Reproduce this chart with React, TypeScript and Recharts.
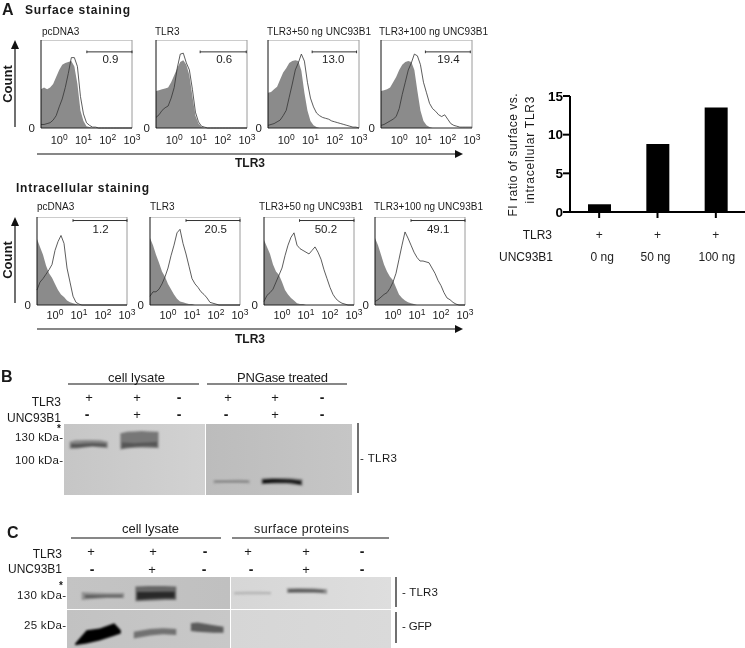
import React from 'react';
import {
  ComposedChart, Area, Line, XAxis, YAxis, ReferenceLine, ReferenceDot, BarChart, Bar,
} from 'recharts';

// ---------- flow cytometry data: log10 fluorescence bins, % of max count ----------
const bins = Array.from({ length: 31 }, (_, i) => -0.75 + i * 0.125);
const decades = [0, 1, 2, 3];

const isoSurfA = [44,46,44,46,50,58,66,72,74,75,76,70,50,20,8,2,1];
const isoSurfB = [42,43,44,45,46,52,60,68,75,77,72,60,36,14,5,1];
const isoSurfC = [40,41,44,47,55,63,68,74,76,77,76,65,40,20,8,3,1];
const isoSurfD = [42,43,44,46,52,58,66,72,75,76,75,66,42,20,8,3,1];
const surfA = [4,4,5,6,9,14,24,33,46,62,80,80,70,36,16,6,3,1,1];
const surfB = [12,15,20,23,25,34,46,68,84,85,74,66,44,18,7,2,1];
const surfC = [3,4,5,7,9,14,20,35,50,66,74,84,76,52,34,24,17,14,12,11,10,8,7,6,5,4,3,2,1,1,0];
const surfD = [3,4,6,8,10,13,22,38,52,66,74,84,82,72,52,40,28,22,19,15,13,15,10,5,3,2,1,1,1,1,1];

const isoIntraA = [75,66,57,45,36,31,24,17,12,9,5,3,2,1];
const isoIntraB = [76,68,57,48,38,32,24,18,12,7,4,3,2,1,1];
const isoIntraC = [74,66,58,46,38,34,26,17,12,8,5,2,1,1];
const isoIntraD = [76,68,57,46,38,32,28,20,12,8,5,3,2,1];
const intraA = [17,26,30,35,40,46,62,72,79,70,42,26,10,3,1];
const intraB = [10,15,15,18,24,32,42,56,68,82,86,70,58,44,30,24,20,15,12,8,3,2,1];
const intraC = [4,11,14,18,26,34,42,56,68,77,82,68,64,62,60,58,62,66,60,52,40,30,20,12,7,4,2,1];
const intraD = [4,6,9,12,14,19,26,36,52,68,83,76,68,60,54,50,50,49,48,42,36,28,22,14,8,6,3,1];

const surfaceTitles = ['pcDNA3', 'TLR3', 'TLR3+50 ng UNC93B1', 'TLR3+100 ng UNC93B1'];
const surfaceGateStart = [1.14, 1.07, 1.07, 1.08];
const surfaceGateEnd = [3, 2.97, 2.9, 2.93];
const surfacePercent = ['0.9', '0.6', '13.0', '19.4'];
const surfacePercentAt = [2.11, 2.06, 1.94, 2.03];
const intraGateStart = [0.75, 0.75, 0.73, 0.75];
const intraPercent = ['1.2', '20.5', '50.2', '49.1'];
const intraPercentAt = [1.9, 1.99, 1.83, 1.88];

// ---------- bar chart ----------
const doseLabels = ['0 ng', '50 ng', '100 ng'];
const tlr3Signs = ['+', '+', '+'];
const fiRatio = [1.0, 8.8, 13.5];
const ratioTicks = [0, 5, 10, 15];

// ---------- blots: x along the lane (% of gel width), top/bottom of band (% of gel height), signal 0..1 ----------
const gelBLeft = [
  { x: [4,8,15,20,26,31], top: [25,23,22.5,22.5,23,25], bottom: [35,35,33,32,33,34], signal: 0.35 },
  { x: [5,10,20,30], top: [28,28,27,28], bottom: [33,33,31,32], signal: 0.6 },
  { x: [40,45,55,67], top: [13,11,10,11], bottom: [36,34,33,34], signal: 0.42 },
  { x: [41,50,60,66], top: [26,27,26,25], bottom: [34,32,31,32], signal: 0.58 },
];
const gelBRight = [
  { x: [5,12,22,30], top: [79,79,78,79], bottom: [84,83,83,84], signal: 0.2 },
  { x: [6,14,22,29], top: [80,80,80,80], bottom: [82,82,82,82], signal: 0.4 },
  { x: [38,45,55,66], top: [77,76,76,78], bottom: [85,84,84,87], signal: 0.5 },
  { x: [39,48,58,65], top: [79,78,79,81], bottom: [83,82,82,85], signal: 0.95 },
];
const gelCTopLeft = [
  { x: [9,13,24,35], top: [47,48,50,50], bottom: [72,70,66,66], signal: 0.3 },
  { x: [11,14,24,34], top: [56,56,57,57], bottom: [66,66,63,63], signal: 0.55 },
  { x: [42,50,60,67], top: [30,28,28,30], bottom: [76,74,72,72], signal: 0.5 },
  { x: [43,50,60,66], top: [47,47,46,46], bottom: [70,68,66,66], signal: 0.8 },
];
const gelCTopRight = [
  { x: [2,10,18,25], top: [47,46,46,47], bottom: [55,54,54,54], signal: 0.12 },
  { x: [35,42,52,60], top: [35,34,35,38], bottom: [50,50,50,52], signal: 0.3 },
  { x: [36,42,52,58], top: [40,39,40,42], bottom: [47,46,46,48], signal: 0.6 },
];
const gelCBottomLeft = [
  { x: [5,12,20,29,33], top: [88,53,49,35,53], bottom: [93,88,80,68,62], signal: 1 },
  { x: [41,51,59,67], top: [57,50,48,50], bottom: [75,67,64,66], signal: 0.45 },
  { x: [76,80,90,96], top: [35,33,40,44], bottom: [55,57,60,60], signal: 0.55 },
];
const gelCBottomRight: { x: number[]; top: number[]; bottom: number[]; signal: number }[] = [];

const SANS = '"Liberation Sans", Arial, sans-serif';

// ---------- histogram panel ----------
const decadeTick = (dy: number) => (props: any) => {
  const { x, y, payload } = props;
  return (
    <text x={x} y={y + dy} textAnchor="middle" fontFamily={SANS} fontSize={11} fill="#222">
      10<tspan dy={-4} fontSize={8.5}>{payload.value}</tspan>
    </text>
  );
};

function Histogram(p: {
  left: number; top: number; width: number; height: number; iso: number[]; sample: number[]; tickDy: number;
  gateFrom: number; gateTo: number; gateY: number; pct: string; pctX: number; pctY: number;
}) {
  const rows = bins.map((x, i) => ({ x, iso: p.iso[i] ?? 0, sample: p.sample[i] ?? 0 }));
  const AXIS_W = 14; const AXIS_H = 24; const RIGHT = 16;
  return (
    <div style={{ position: 'absolute', left: p.left - AXIS_W, top: p.top }}>
      <ComposedChart width={p.width + AXIS_W + RIGHT} height={p.height + AXIS_H} data={rows}
        margin={{ top: 0, right: RIGHT, bottom: 0, left: 0 }}>
        <XAxis dataKey="x" type="number" domain={[-0.75, 3]} ticks={decades} height={AXIS_H}
          tick={decadeTick(p.tickDy)} tickLine={false} axisLine={{ stroke: '#222', strokeWidth: 1 }} interval={0} />
        <YAxis type="number" domain={[0, 100]} ticks={[0]} width={AXIS_W} tickLine={false}
          tick={{ fontSize: 11.5, fontFamily: SANS, fill: '#222' }} tickMargin={0}
          axisLine={{ stroke: '#111', strokeWidth: 1 }} />
        <ReferenceLine y={100} stroke="#9a9a9a" strokeWidth={1} />
        <ReferenceLine x={3} stroke="#9a9a9a" strokeWidth={1} />
        <Area dataKey="iso" type="linear" fill="#8b8b8b" fillOpacity={1} stroke="none" dot={false}
          activeDot={false} isAnimationActive={false} />
        <Line dataKey="sample" type="linear" stroke="#333" strokeWidth={0.8} dot={false}
          activeDot={false} isAnimationActive={false} />
        <ReferenceLine segment={[{ x: p.gateFrom, y: p.gateY }, { x: p.gateTo, y: p.gateY }]} stroke="#333" strokeWidth={1} />
        <ReferenceLine segment={[{ x: p.gateFrom, y: p.gateY - 1.5 }, { x: p.gateFrom, y: p.gateY + 1.5 }]} stroke="#333" strokeWidth={1} />
        <ReferenceLine segment={[{ x: p.gateTo, y: p.gateY - 1.5 }, { x: p.gateTo, y: p.gateY + 1.5 }]} stroke="#333" strokeWidth={1} />
        <ReferenceDot x={p.pctX} y={p.pctY} r={0} stroke="none"
          label={{ value: p.pct, position: 'center', fontSize: 11.5, fontFamily: SANS, fill: '#222' }} />
      </ComposedChart>
    </div>
  );
}

// ---------- blot panel ----------
function Gel(p: { left: number; top: number; width: number; height: number; bands: typeof gelBLeft; bg: string }) {
  const xs = Array.from(new Set(p.bands.flatMap((b) => b.x))).sort((a, b) => a - b);
  const rows = xs.length
    ? xs.map((x) => {
        const r: any = { x };
        p.bands.forEach((b, i) => {
          const j = b.x.indexOf(x);
          if (j >= 0) r['b' + i] = [b.top[j], b.bottom[j]];
          else if (x > b.x[0] && x < b.x[b.x.length - 1]) {
            const k = b.x.findIndex((v) => v > x);
            const t = (x - b.x[k - 1]) / (b.x[k] - b.x[k - 1]);
            r['b' + i] = [b.top[k - 1] + t * (b.top[k] - b.top[k - 1]), b.bottom[k - 1] + t * (b.bottom[k] - b.bottom[k - 1])];
          }
        });
        return r;
      })
    : [{ x: 0 }, { x: 100 }];
  return (
    <div style={{ position: 'absolute', left: p.left, top: p.top, width: p.width, height: p.height, background: p.bg, overflow: 'hidden' }}>
      <div style={{ filter: 'blur(1.2px)' }}>
        <ComposedChart width={p.width} height={p.height} data={rows} margin={{ top: 0, right: 0, bottom: 0, left: 0 }}>
          <XAxis dataKey="x" type="number" domain={[0, 100]} hide />
          <YAxis type="number" domain={[0, 100]} reversed hide />
          {p.bands.map((b, i) => {
            const g = Math.round(205 * (1 - b.signal));
            return (
              <Area key={i} dataKey={'b' + i} type="linear" stroke="none" fillOpacity={1}
                fill={`rgb(${g},${g},${g})`} dot={false} activeDot={false} isAnimationActive={false} />
            );
          })}
        </ComposedChart>
      </div>
    </div>
  );
}

// ---------- bar chart ticks ----------
const DoseTick = (props: any) => {
  const { x, y, index } = props;
  return (
    <g fontFamily={SANS} fontSize={12} fill="#222" textAnchor="middle">
      <text x={x} y={y + 19}>{tlr3Signs[index]}</text>
      <text x={x + (index === 0 ? 3 : index === 1 ? -2 : 1)} y={y + 41}>{doseLabels[index]}</text>
    </g>
  );
};

// ---------- page annotations ----------
type T = { t: string; x: number; y: number; s?: number; b?: boolean; a?: 'start' | 'middle' | 'end'; w?: number; r?: boolean };
const labels: T[] = [
  { t: 'A', x: 2, y: 15, s: 16, b: true },
  { t: 'Surface staining', x: 25, y: 14, s: 12, b: true, w: 105 },
  { t: 'Intracellular staining', x: 16, y: 192, s: 12, b: true, w: 133 },
  { t: 'pcDNA3', x: 42, y: 35, s: 10 }, { t: 'TLR3', x: 155, y: 35, s: 10 },
  { t: 'TLR3+50 ng UNC93B1', x: 267, y: 35, s: 10, w: 104 },
  { t: 'TLR3+100 ng UNC93B1', x: 379, y: 35, s: 10, w: 109 },
  { t: 'pcDNA3', x: 37, y: 210, s: 10 }, { t: 'TLR3', x: 150, y: 210, s: 10 },
  { t: 'TLR3+50 ng UNC93B1', x: 259, y: 210, s: 10, w: 104 },
  { t: 'TLR3+100 ng UNC93B1', x: 374, y: 210, s: 10, w: 109 },
  { t: 'TLR3', x: 235, y: 167, s: 12, b: true }, { t: 'TLR3', x: 235, y: 343, s: 12, b: true },
  { t: 'Count', x: 12, y: 84, s: 13, b: true, a: 'middle', r: true },
  { t: 'Count', x: 12, y: 260, s: 13, b: true, a: 'middle', r: true },
  { t: 'FI ratio of surface vs.', x: 517, y: 155, s: 12, a: 'middle', r: true, w: 123 },
  { t: 'intracellular TLR3', x: 534, y: 150, s: 12, a: 'middle', r: true, w: 107 },
  { t: 'TLR3', x: 552, y: 239, s: 12, a: 'end' }, { t: 'UNC93B1', x: 553, y: 261, s: 12, a: 'end' },
  // panel B
  { t: 'B', x: 1, y: 382, s: 16, b: true },
  { t: 'cell lysate', x: 108, y: 382, s: 13, w: 57 },
  { t: 'PNGase treated', x: 237, y: 382, s: 13, w: 91 },
  { t: 'TLR3', x: 61, y: 406, s: 12, a: 'end' }, { t: 'UNC93B1', x: 61, y: 422, s: 12, a: 'end' },
  { t: '+', x: 89, y: 402, a: 'middle', s: 13 }, { t: '+', x: 137, y: 402, a: 'middle', s: 13 }, { t: '-', x: 179, y: 402, a: 'middle', s: 14, b: true },
  { t: '+', x: 228, y: 402, a: 'middle', s: 13 }, { t: '+', x: 275, y: 402, a: 'middle', s: 13 }, { t: '-', x: 322, y: 402, a: 'middle', s: 14, b: true },
  { t: '-', x: 87, y: 419, a: 'middle', s: 14, b: true }, { t: '+', x: 137, y: 419, a: 'middle', s: 13 }, { t: '-', x: 179, y: 419, a: 'middle', s: 14, b: true },
  { t: '-', x: 226, y: 419, a: 'middle', s: 14, b: true }, { t: '+', x: 275, y: 419, a: 'middle', s: 13 }, { t: '-', x: 322, y: 419, a: 'middle', s: 14, b: true },
  { t: '*', x: 59, y: 432, a: 'middle', s: 10, b: true },
  { t: '130 kDa-', x: 15, y: 441, s: 11.5, w: 48 }, { t: '100 kDa-', x: 15, y: 464, s: 11.5, w: 48 },
  { t: '- TLR3', x: 360, y: 462, s: 11.5, w: 37 },
  // panel C
  { t: 'C', x: 7, y: 538, s: 16, b: true },
  { t: 'cell lysate', x: 122, y: 533, s: 13, w: 57 },
  { t: 'surface proteins', x: 254, y: 533, s: 12.5, w: 95 },
  { t: 'TLR3', x: 62, y: 558, s: 12, a: 'end' }, { t: 'UNC93B1', x: 62, y: 573, s: 12, a: 'end' },
  { t: '+', x: 91, y: 556, a: 'middle', s: 13 }, { t: '+', x: 153, y: 556, a: 'middle', s: 13 }, { t: '-', x: 205, y: 556, a: 'middle', s: 14, b: true },
  { t: '+', x: 248, y: 556, a: 'middle', s: 13 }, { t: '+', x: 306, y: 556, a: 'middle', s: 13 }, { t: '-', x: 362, y: 556, a: 'middle', s: 14, b: true },
  { t: '-', x: 92, y: 574, a: 'middle', s: 14, b: true }, { t: '+', x: 152, y: 574, a: 'middle', s: 13 }, { t: '-', x: 204, y: 574, a: 'middle', s: 14, b: true },
  { t: '-', x: 251, y: 574, a: 'middle', s: 14, b: true }, { t: '+', x: 306, y: 574, a: 'middle', s: 13 }, { t: '-', x: 362, y: 574, a: 'middle', s: 14, b: true },
  { t: '*', x: 61, y: 589, a: 'middle', s: 10, b: true },
  { t: '130 kDa-', x: 17, y: 599, s: 11.5, w: 49 }, { t: '25 kDa-', x: 24, y: 629, s: 11.5, w: 42 },
  { t: '- TLR3', x: 402, y: 596, s: 11.5, w: 36 }, { t: '- GFP', x: 402, y: 630, s: 11.5, w: 30 },
];
const rules = [
  [68, 384, 199, 384], [207, 384, 347, 384], [358, 423, 358, 493],
  [71, 538, 221, 538], [232, 538, 389, 538], [396, 577, 396, 607], [396, 612, 396, 643],
];

export default function App() {
  const surfIso = [isoSurfA, isoSurfB, isoSurfC, isoSurfD];
  const surf = [surfA, surfB, surfC, surfD];
  const intraIso = [isoIntraA, isoIntraB, isoIntraC, isoIntraD];
  const intra = [intraA, intraB, intraC, intraD];
  const surfLeft = [41, 156, 268, 381];
  const intraLeft = [37, 150, 264, 375];
  return (
    <div style={{ position: 'absolute', left: 0, top: 0, width: 745, height: 648, overflow: 'hidden', background: '#fff', fontFamily: SANS, filter: 'blur(0.3px)' }}>
      {surfaceTitles.map((t, i) => (
        <Histogram key={t} left={surfLeft[i]} top={40} width={91} height={88} iso={surfIso[i]} sample={surf[i]} tickDy={8}
          gateFrom={surfaceGateStart[i]} gateTo={surfaceGateEnd[i]} gateY={86.5}
          pct={surfacePercent[i]} pctX={surfacePercentAt[i]} pctY={79} />
      ))}
      {surfaceTitles.map((t, i) => (
        <Histogram key={'i' + t} left={intraLeft[i]} top={217} width={90} height={88} iso={intraIso[i]} sample={intra[i]} tickDy={6}
          gateFrom={intraGateStart[i]} gateTo={3} gateY={96}
          pct={intraPercent[i]} pctX={intraPercentAt[i]} pctY={86} />
      ))}

      <div style={{ position: 'absolute', left: 490, top: 85 }}>
        <BarChart width={255} height={190} margin={{ top: 11, right: 0, bottom: 0, left: 0 }}
          data={doseLabels.map((d, i) => ({ d, v: fiRatio[i] }))}>
          <XAxis dataKey="d" height={63} tick={DoseTick} interval={0}
            axisLine={{ stroke: '#000', strokeWidth: 2 }} tickLine={{ stroke: '#000', strokeWidth: 2 }} tickSize={6} />
          <YAxis type="number" domain={[0, 15]} ticks={ratioTicks} width={80} tickMargin={0}
            tick={{ fontSize: 13.5, fontWeight: 700, fontFamily: SANS, fill: '#000' }}
            axisLine={{ stroke: '#000', strokeWidth: 2 }} tickLine={{ stroke: '#000', strokeWidth: 2 }} tickSize={7} />
          <Bar dataKey="v" fill="#000" barSize={23} isAnimationActive={false} />
        </BarChart>
      </div>

      <Gel left={64} top={424} width={141} height={71} bands={gelBLeft} bg="linear-gradient(90deg,#c6c6c6,#d2d2d2)" />
      <Gel left={206} top={424} width={146} height={71} bands={gelBRight} bg="linear-gradient(90deg,#bcbcbc,#c6c6c6)" />
      <Gel left={67} top={577} width={163} height={32} bands={gelCTopLeft} bg="linear-gradient(90deg,#c4c4c4,#c0c0c0)" />
      <Gel left={231} top={577} width={160} height={32} bands={gelCTopRight} bg="linear-gradient(90deg,#d6d6d6,#dedede)" />
      <Gel left={67} top={610} width={163} height={38} bands={gelCBottomLeft} bg="linear-gradient(90deg,#c2c2c2,#c8c8c8)" />
      <Gel left={231} top={610} width={160} height={38} bands={gelCBottomRight} bg="linear-gradient(90deg,#d6d6d6,#dadada)" />

      <svg width={745} height={648} style={{ position: 'absolute', left: 0, top: 0, pointerEvents: 'none' }}>
        <g stroke="#111" strokeWidth={1.2}>
          <line x1={15} y1={127} x2={15} y2={46} />
          <line x1={15} y1={303} x2={15} y2={223} />
          <line x1={37} y1={154} x2={456} y2={154} />
          <line x1={37} y1={329} x2={456} y2={329} />
          {rules.map((r, i) => <line key={i} x1={r[0]} y1={r[1]} x2={r[2]} y2={r[3]} />)}
        </g>
        <g fill="#111">
          <polygon points="15,40 11,49 19,49" />
          <polygon points="15,217 11,226 19,226" />
          <polygon points="463,154 455,150 455,158" />
          <polygon points="463,329 455,325 455,333" />
        </g>
        {labels.map((l, i) => (
          <text key={i} x={l.x} y={l.y} fontSize={l.s ?? 12} fontWeight={l.b ? 700 : 400} fontFamily={SANS}
            textAnchor={l.a ?? 'start'} fill="#1a1a1a"
            textLength={l.w} lengthAdjust={l.w ? 'spacing' : undefined}
            transform={l.r ? `rotate(-90 ${l.x} ${l.y})` : undefined}>{l.t}</text>
        ))}
      </svg>
    </div>
  );
}
